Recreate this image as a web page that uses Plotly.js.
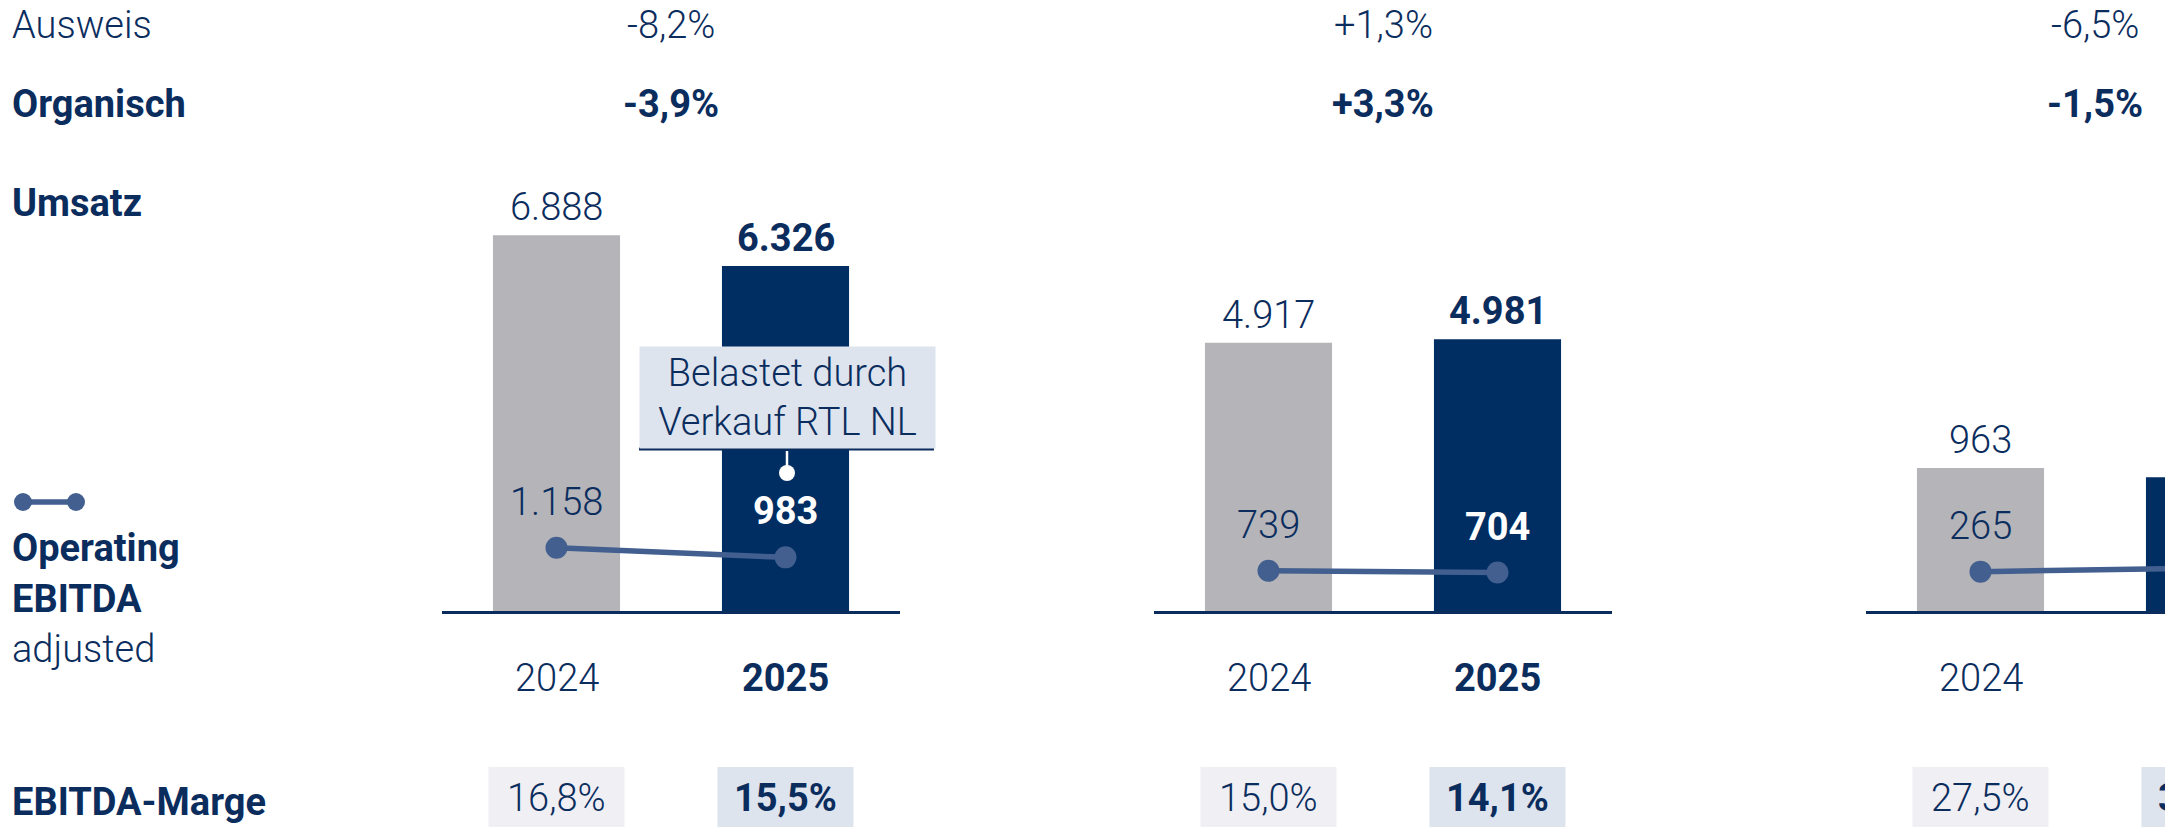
<!DOCTYPE html>
<html>
<head>
<meta charset="utf-8">
<script src="https://cdn.plot.ly/plotly-3.0.1.min.js"></script>
<style>
  html, body { margin: 0; padding: 0; background: #ffffff; overflow: hidden; }
  #chart { width: 2165px; height: 827px; }
</style>
</head>
<body>
<div id="chart"></div>
<script>
// ---------------- DATA ----------------
const years = ['2024', '2025'];
const umsatz2024 = [6888, 4917, 963];
const umsatz2025 = [6326, 4981, 900];
const ebitda2024 = [1158, 739, 265];
const ebitda2025 = [983, 704, 290];
const marge2024 = ['16,8%', '15,0%', '27,5%'];
const marge2025 = ['15,5%', '14,1%', '32,2%'];
const ausweis = ['-8,2%', '+1,3%', '-6,5%'];
const organisch = ['-3,9%', '+3,3%', '-1,5%'];
const rowLabels = ['Ausweis', 'Organisch', 'Umsatz', 'Operating', 'EBITDA', 'adjusted', 'EBITDA-Marge'];
const calloutText = ['Belastet durch', 'Verkauf RTL NL'];

// ---------------- STYLE / LAYOUT CONSTANTS ----------------
const W = 2165, H = 827;
const FONT = 'Roboto, "Open Sans", sans-serif';
const NAVY = '#0b2d5e';
const DARK = '#002d62';
const GRAY = '#b4b4b9';
const LINE = '#425f8f';
const FS = 38;
const LIGHT = 300;
const GROUP_START = [442, 1154, 1866];
const GROUP_W = 458;
const CAT_PX = GROUP_W / 2;
const BASE_Y = 611;
const yMax = [11200, 11200, 4115];

const fx = p => p / W;
const fy = p => 1 - p / H;
const fmt = v => String(v).replace(/\B(?=(\d{3})+(?!\d))/g, '.');
const xPaper = (g, i) => (GROUP_START[g] + (i + 0.5) * CAT_PX) / W;
const reg = (color) => ({size: FS, color: color || NAVY, weight: LIGHT});
const bold = (color) => ({size: FS, color: color || NAVY, weight: 700});

const traces = [];
const annotations = [];
const shapes = [];
const layout = {
  width: W, height: H,
  margin: {l: 0, r: 0, t: 0, b: 0, pad: 0},
  paper_bgcolor: '#ffffff',
  plot_bgcolor: 'rgba(0,0,0,0)',
  showlegend: false,
  hovermode: false,
  bargap: 0.445,
  font: {family: FONT, size: FS, color: NAVY}
};

for (let g = 0; g < 3; g++) {
  const sfx = g === 0 ? '' : String(g + 1);
  const xid = 'x' + sfx, yid = 'y' + sfx;
  const s = GROUP_START[g];
  const endPx = Math.min(W, s + GROUP_W);
  layout['xaxis' + sfx] = {
    domain: [fx(s), fx(endPx)],
    range: [-0.5, -0.5 + (endPx - s) / CAT_PX],
    type: 'category', categoryorder: 'array', categoryarray: years,
    anchor: yid, showline: true, linecolor: NAVY, linewidth: 3,
    showticklabels: false, ticks: '', showgrid: false, zeroline: false, fixedrange: true
  };
  layout['yaxis' + sfx] = {
    domain: [fy(BASE_Y), 1], range: [0, yMax[g]], anchor: xid,
    visible: false, showgrid: false, zeroline: false, fixedrange: true
  };

  traces.push({
    type: 'bar', x: years, y: [umsatz2024[g], umsatz2025[g]],
    xaxis: xid, yaxis: yid, width: 0.555,
    marker: {color: [GRAY, DARK], line: {width: 0}},
    hoverinfo: 'skip'
  });
  traces.push({
    type: 'scatter', mode: 'lines+markers', x: years, y: [ebitda2024[g], ebitda2025[g]],
    xaxis: xid, yaxis: yid, cliponaxis: true,
    line: {color: LINE, width: 5.5},
    marker: {color: LINE, size: 22},
    hoverinfo: 'skip'
  });

  // header rows
  annotations.push({xref: xid, yref: 'paper', x: 0.5, y: fy(25), text: ausweis[g],
    showarrow: false, xanchor: 'center', yanchor: 'middle', font: reg()});
  annotations.push({xref: xid, yref: 'paper', x: 0.5, y: fy(104), text: organisch[g],
    showarrow: false, xanchor: 'center', yanchor: 'middle', font: bold()});

  // revenue labels
  annotations.push({xref: xid, yref: yid, x: 0, y: umsatz2024[g], yshift: 28, text: fmt(umsatz2024[g]),
    showarrow: false, yanchor: 'middle', font: reg()});
  annotations.push({xref: xid, yref: yid, x: 1, y: umsatz2025[g], yshift: 28, text: fmt(umsatz2025[g]),
    showarrow: false, yanchor: 'middle', font: bold()});
  // EBITDA labels
  annotations.push({xref: xid, yref: yid, x: 0, y: ebitda2024[g], yshift: 46, text: fmt(ebitda2024[g]),
    showarrow: false, yanchor: 'middle', font: reg()});
  annotations.push({xref: xid, yref: yid, x: 1, y: ebitda2025[g], yshift: 46, text: fmt(ebitda2025[g]),
    showarrow: false, yanchor: 'middle', font: bold('#ffffff')});
  // year labels
  annotations.push({xref: xid, yref: 'paper', x: 0, y: fy(677.5), text: years[0],
    showarrow: false, yanchor: 'middle', font: reg()});
  annotations.push({xref: xid, yref: 'paper', x: 1, y: fy(677.5), text: years[1],
    showarrow: false, yanchor: 'middle', font: bold()});

  // margin boxes
  shapes.push({type: 'rect', xref: xid, yref: 'paper', xsizemode: 'pixel', xanchor: 0, x0: -68, x1: 68,
    y0: fy(767), y1: fy(845), fillcolor: '#efeff4', line: {width: 0}, layer: 'below'});
  shapes.push({type: 'rect', xref: xid, yref: 'paper', xsizemode: 'pixel', xanchor: 1, x0: -68, x1: 68,
    y0: fy(767), y1: fy(845), fillcolor: '#dee4ed', line: {width: 0}, layer: 'below'});
  annotations.push({xref: 'paper', yref: 'paper', x: xPaper(g, 0), y: fy(798), text: marge2024[g],
    showarrow: false, xanchor: 'center', yanchor: 'middle', font: reg()});
  annotations.push({xref: 'paper', yref: 'paper', x: xPaper(g, 1), y: fy(798), text: marge2025[g],
    showarrow: false, xanchor: 'center', yanchor: 'middle', font: bold()});
}

// left row labels
const leftRows = [
  [rowLabels[0], 25, false], [rowLabels[1], 104, true], [rowLabels[2], 203, true],
  [rowLabels[3], 548, true], [rowLabels[4], 599, true], [rowLabels[5], 649, false],
  [rowLabels[6], 802, true]
];
leftRows.forEach(([t, y, b]) => {
  annotations.push({xref: 'paper', yref: 'paper', x: fx(10), y: fy(y), text: t,
    showarrow: false, xanchor: 'left', yanchor: 'middle', font: b ? bold() : reg()});
});

// legend icon (line with two dots)
shapes.push({type: 'line', xref: 'paper', yref: 'paper', x0: fx(23), x1: fx(76), y0: fy(502), y1: fy(502),
  line: {color: LINE, width: 5.5}});
[23, 76].forEach(cx => shapes.push({type: 'circle', xref: 'paper', yref: 'paper',
  x0: fx(cx - 9), x1: fx(cx + 9), y0: fy(502 + 9), y1: fy(502 - 9), fillcolor: LINE, line: {width: 0}}));

// callout box "Belastet durch Verkauf RTL NL"
annotations.push({xref: 'x', yref: 'paper', x: 1, xshift: 1.5, y: fy(397.5), text: calloutText.join('<br>'),
  showarrow: false, xanchor: 'center', yanchor: 'middle', width: 295, height: 101, borderpad: 0,
  bgcolor: '#dde4ee', font: reg()});
shapes.push({type: 'line', xref: 'paper', yref: 'paper', x0: fx(639), x1: fx(934), y0: fy(449), y1: fy(449),
  line: {color: NAVY, width: 3}});
shapes.push({type: 'line', xref: 'paper', yref: 'paper', x0: fx(787), x1: fx(787), y0: fy(451), y1: fy(470),
  line: {color: '#ffffff', width: 2.5}});
shapes.push({type: 'circle', xref: 'paper', yref: 'paper', x0: fx(779), x1: fx(795), y0: fy(481), y1: fy(465),
  fillcolor: '#ffffff', line: {width: 0}});

layout.annotations = annotations;
layout.shapes = shapes;

Plotly.newPlot('chart', traces, layout, {staticPlot: true, displayModeBar: false, responsive: false});
</script>
</body>
</html>
